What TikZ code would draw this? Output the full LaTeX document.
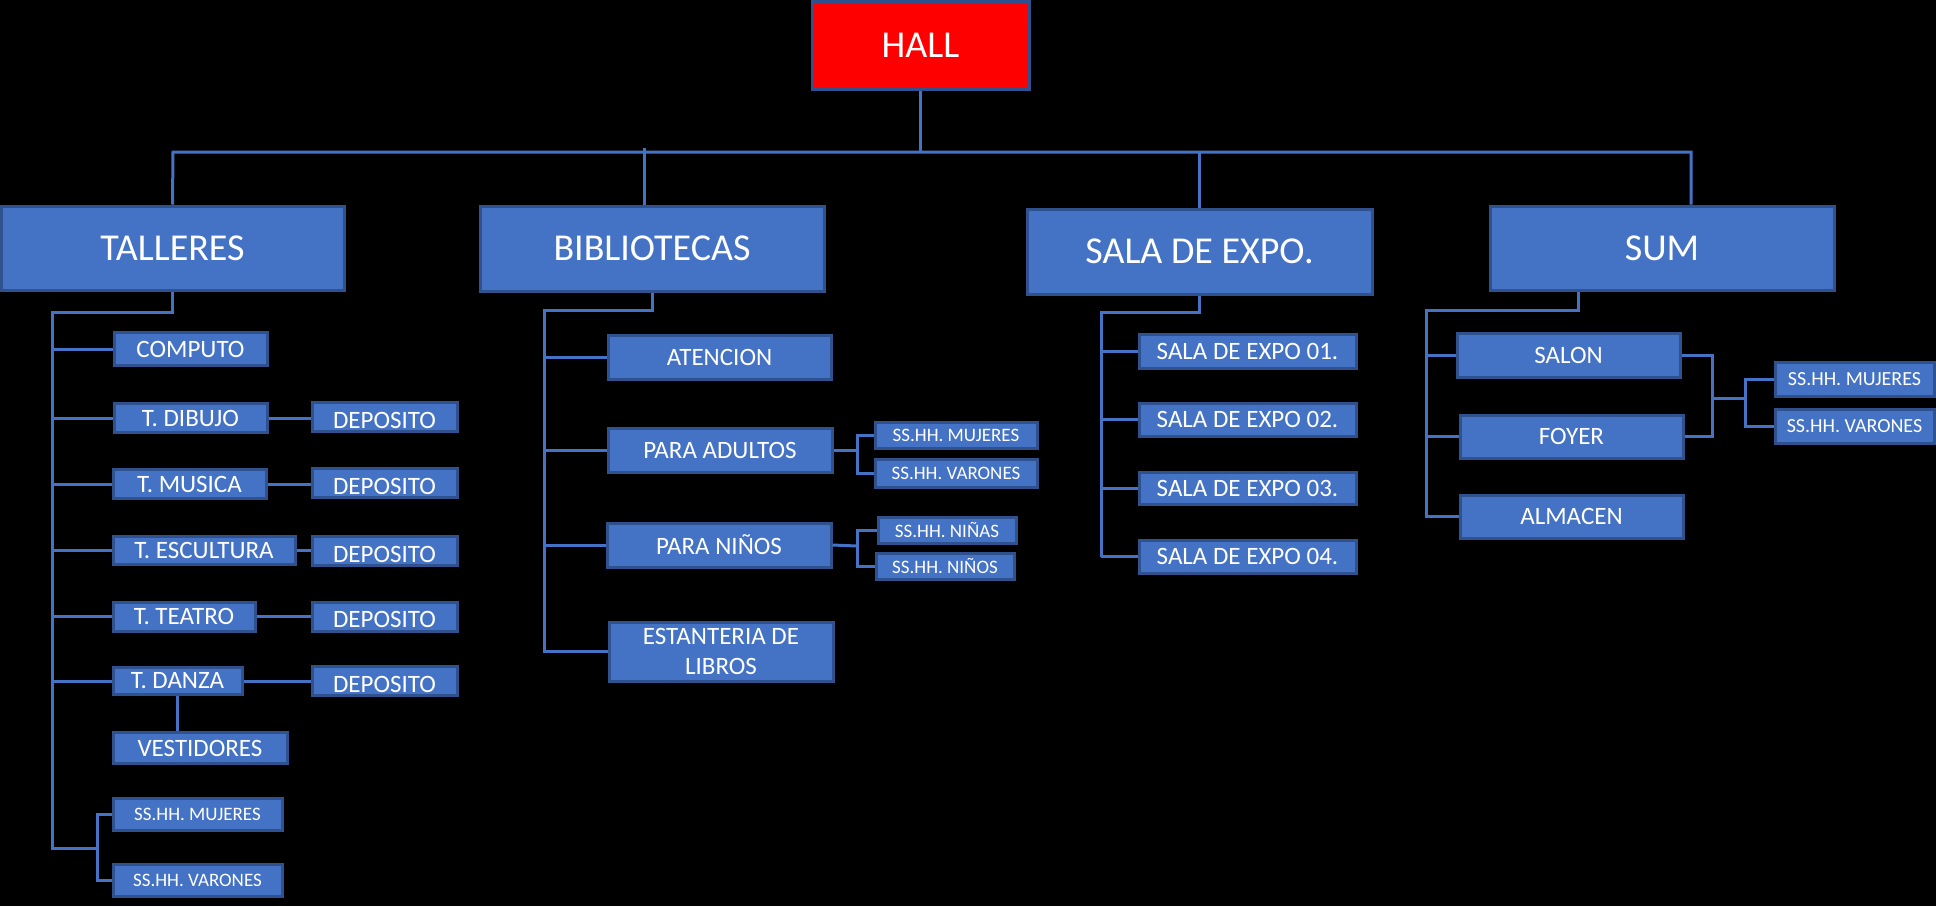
\documentclass[tikz,border=0pt]{standalone}
\usepackage{fontspec}
\setmainfont{Carlito}
\usepackage{xcolor}
\usetikzlibrary{positioning}
\definecolor{boxblue}{HTML}{4472C4}
\definecolor{edgeblue}{HTML}{2F528F}
\newcommand{\headsize}{\fontsize{38}{45}\selectfont}
\newcommand{\roomsize}{\fontsize{25}{30}\selectfont}
\newcommand{\wcsize}{\fontsize{19}{23}\selectfont}
\newcommand{\lowtext}[1]{\raisebox{-3pt}[16pt][0pt]{#1}}

\begin{document}
\begin{tikzpicture}[x=1pt, y=-1pt,
  box/.style={rectangle, draw=edgeblue, line width=3pt, fill=boxblue, text=white, inner sep=0pt},
  head/.style={box, font=\headsize},
  room/.style={box, font=\roomsize},
  wc/.style={box, font=\wcsize},
  wire/.style={draw=boxblue, line width=3pt}]
  \fill[black] (0,0) rectangle (1936,906);
  \useasboundingbox (0,0) rectangle (1936,906);

  % top levels
  \node[head, fill=red, minimum width=217pt, minimum height=88pt] (hall) at (920.5,45) {HALL};
  \node[head, minimum width=343pt, minimum height=84pt] (talleres) at (172.5,248) {TALLERES};
  \node[head, minimum width=344pt, minimum height=85pt] (biblio) at (652,248.5) {BIBLIOTECAS};
  \node[head, minimum width=345pt, minimum height=85pt] (sala) at (1199.5,251.5) {SALA DE EXPO.};
  \node[head, minimum width=344pt, minimum height=84pt] (sum) at (1662,248) {SUM};

  \coordinate (busL) at (173,152);
  \coordinate (busR) at (1691,152);
  \coordinate (bB) at (644,148);
  \draw[wire] (hall.south) -- (hall.south |- busL);
  \draw[wire] (talleres.north) -- (busL) -- (busR) -- (busR |- sum.north);
  \draw[wire] (bB) -- (bB |- biblio.north);
  \draw[wire] (sala.north) -- (sala.north |- busL);

  % talleres
  \node[room, minimum width=153pt, minimum height=33pt] (computo) at (190.5,349) {COMPUTO};
  \node[room, minimum width=153pt, minimum height=29pt] (dibujo) at (190.5,418) {T. DIBUJO};
  \node[room, minimum width=153pt, minimum height=29pt] (musica) at (189.5,484) {T. MUSICA};
  \node[room, minimum width=182pt, minimum height=28pt] (escultura) at (204,550) {T. ESCULTURA};
  \node[room, minimum width=142pt, minimum height=29pt] (teatro) at (184,616.5) {T. TEATRO};
  \node[room, minimum width=129pt, minimum height=27pt] (danza) at (177.5,681) {T. DANZA};
  \node[room, minimum width=174pt, minimum height=31pt] (vestidores) at (200,748) {VESTIDORES};
  \node[wc, minimum width=169pt, minimum height=32pt] (tmuj) at (197.5,814) {SS.HH. MUJERES};
  \node[wc, minimum width=169pt, minimum height=32pt] (tvar) at (197.5,880) {SS.HH. VARONES};
  \foreach \n/\y in {dep1/417,dep2/483,dep3/551,dep4/616.5,dep5/681}
    \node[room, minimum width=145pt, minimum height=29pt] (\n) at (384.5,\y) {\lowtext{DEPOSITO}};

  \coordinate (tT) at (52,312);
  \coordinate (tE) at (52,848);
  \coordinate (tB) at (97,848);
  \draw[wire] (talleres.south) |- (tT) -- (tE) -- (tB);
  \foreach \n in {computo,dibujo,musica,escultura,teatro,danza}
    \draw[wire] (\n.west) -- (\n.west -| tT);
  \foreach \a/\b in {dibujo/dep1,musica/dep2,escultura/dep3,teatro/dep4,danza/dep5}
    \draw[wire] (\a.east) -- (\a.east -| \b.west);
  \draw[wire] (danza.south) -- (danza.south |- vestidores.north);
  \draw[wire] (tmuj.west) -| (tB) |- (tvar.west);

  % bibliotecas
  \node[room, minimum width=223pt, minimum height=44pt] (atencion) at (719.5,357) {ATENCION};
  \node[room, minimum width=224pt, minimum height=44pt] (adultos) at (720,450) {PARA ADULTOS};
  \node[room, minimum width=224pt, minimum height=44pt] (ninos) at (719,545) {PARA NIÑOS};
  \node[room, minimum width=224pt, minimum height=59pt, align=center] (estanteria) at (721,651.5) {ESTANTERIA DE\\LIBROS};
  \node[wc, minimum width=162pt, minimum height=26pt] (bmuj) at (956,435) {SS.HH. MUJERES};
  \node[wc, minimum width=162pt, minimum height=28pt] (bvar) at (956,473) {SS.HH. VARONES};
  \node[wc, minimum width=138pt, minimum height=26pt] (bnina) at (947,530) {SS.HH. NIÑAS};
  \node[wc, minimum width=138pt, minimum height=26pt] (bnino) at (945,566) {SS.HH. NIÑOS};

  \coordinate (bT) at (544,310);
  \coordinate (bE) at (544,653);
  \coordinate (bA) at (857,450);
  \coordinate (bN) at (857,546);
  \draw[wire] (biblio.south) |- (bT) -- (bE);
  \foreach \n in {atencion,adultos,ninos,estanteria}
    \draw[wire] (\n.west) -- (\n.west -| bT);
  \draw[wire] (adultos.east) -- (bA);
  \draw[wire] (bmuj.west) -| (bA) |- (bvar.west);
  \draw[wire] (ninos.east) -- (bN);
  \draw[wire] (bnina.west) -| (bN) |- (bnino.west);

  % sala de expo
  \foreach \n/\y/\h in {1/351/34,2/419.5/33,3/488/32,4/556.5/33}
    \node[room, minimum width=217pt, minimum height=\h pt] (s\n) at (1247.5,\y) {SALA DE EXPO 0\n.};
  \coordinate (sT) at (1101,312);
  \coordinate (sE) at (1101,557);
  \draw[wire] (sala.south) |- (sT) -- (sE);
  \foreach \n in {s1,s2,s3,s4}
    \draw[wire] (\n.west) -- (\n.west -| sT);

  % sum
  \node[room, minimum width=223pt, minimum height=44pt] (salon) at (1568.5,355) {SALON};
  \node[room, minimum width=223pt, minimum height=43pt] (foyer) at (1571.5,436.5) {FOYER};
  \node[room, minimum width=223pt, minimum height=43pt] (almacen) at (1571.5,516.5) {ALMACEN};
  \node[wc, font=\fontsize{20}{24}\selectfont, minimum width=159pt, minimum height=34pt] (smuj) at (1854.5,379) {SS.HH. MUJERES};
  \node[wc, font=\fontsize{20}{24}\selectfont, minimum width=159pt, minimum height=34pt] (svar) at (1854.5,426) {SS.HH. VARONES};

  \coordinate (uD) at (1578,310);
  \coordinate (uT) at (1426,310);
  \coordinate (uE) at (1426,518);
  \coordinate (uB) at (1712,398);
  \coordinate (uC) at (1745,398);
  \draw[wire] (uD |- sum.south) -- (uD) -- (uT) -- (uE);
  \foreach \n in {salon,foyer,almacen}
    \draw[wire] (\n.west) -- (\n.west -| uT);
  \draw[wire] (salon.east) -| (uB) |- (foyer.east);
  \draw[wire] (uB) -- (uC);
  \draw[wire] (smuj.west) -| (uC) |- (svar.west);
\end{tikzpicture}
\end{document}
